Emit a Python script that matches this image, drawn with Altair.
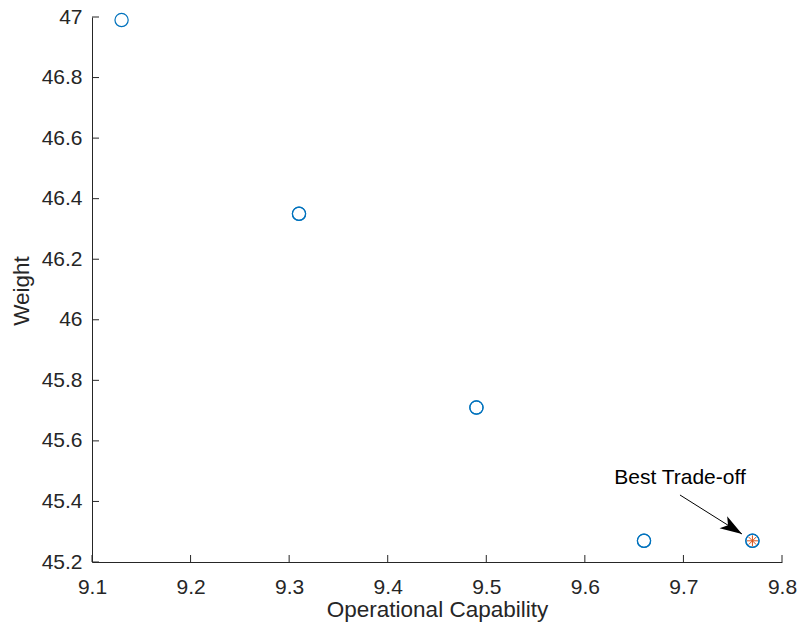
import math
import altair as alt
import pandas as pd

# Pareto front of candidate designs
capability = [9.13, 9.31, 9.31, 9.49, 9.49, 9.66, 9.66, 9.77, 9.77]
weight = [46.99, 46.35, 46.35, 45.71, 45.71, 45.27, 45.27, 45.27, 45.27]

# selected compromise solution
best_capability = [9.77]
best_weight = [45.27]

# annotation: label anchor, arrow start and arrow tip (data units)
note_text = ["Best Trade-off"]
note_x = [9.6965]
note_y = [45.4576]
arrow_x = [9.6965]
arrow_y = [45.4213]
arrow_x2 = [9.7594]
arrow_y2 = [45.2925]

# axis ticks
x_ticks = [9.1, 9.2, 9.3, 9.4, 9.5, 9.6, 9.7, 9.8]
y_ticks = [45.2, 45.4, 45.6, 45.8, 46.0, 46.2, 46.4, 46.6, 46.8, 47.0]

X_DOMAIN = [9.1, 9.8]
Y_DOMAIN = [45.2, 47.0]
W, H = 690, 545

FONT = "Liberation Sans, Arial, Helvetica, sans-serif"
INK = "#262626"
BLUE = "#0072BD"
ORANGE = "#D95319"

pts = pd.DataFrame({"x": capability, "y": weight})
best = pd.DataFrame({"x": best_capability, "y": best_weight})
note = pd.DataFrame({"x": note_x, "y": note_y, "t": note_text})
arrow = pd.DataFrame({"x": arrow_x, "y": arrow_y, "x2": arrow_x2, "y2": arrow_y2})
xt = pd.DataFrame({"v": x_ticks})
yt = pd.DataFrame({"v": y_ticks})

xs = alt.Scale(domain=X_DOMAIN, nice=False, zero=False)
ys = alt.Scale(domain=Y_DOMAIN, nice=False, zero=False)

x_axis = alt.Axis(
    values=x_ticks, format="~g", ticks=False, tickSize=0, grid=False,
    domainColor=INK, domainWidth=1, labelColor=INK, labelFont=FONT,
    labelFontSize=21, labelPadding=14, titleFont=FONT, titleFontSize=22.5,
    titleColor=INK, titleFontWeight="normal", titleX=W / 2, titleY=54,
    titleAlign="center", titleBaseline="alphabetic", labelFlush=False,
)
y_axis = alt.Axis(
    values=y_ticks, format="~g", ticks=False, tickSize=0, grid=False,
    domainColor=INK, domainWidth=1, labelColor=INK, labelFont=FONT,
    labelFontSize=21, labelPadding=10, titleFont=FONT, titleFontSize=22.5,
    titleColor=INK, titleFontWeight="normal", titleX=-64, titleY=H / 2 + 1,
    titleAlign="center", titleBaseline="alphabetic", titleAngle=270,
    labelFlush=False,
)

# empty axes layer carrying domain lines, labels and titles
frame = alt.Chart(pts).mark_point(opacity=0).encode(
    x=alt.X("x:Q", scale=xs, axis=x_axis, title="Operational Capability"),
    y=alt.Y("y:Q", scale=ys, axis=y_axis, title="Weight"),
)

# inward-pointing ticks
x_tick_marks = alt.Chart(xt).mark_rule(color=INK, strokeWidth=1).encode(
    x=alt.X("v:Q", scale=xs), y=alt.value(H), y2=alt.value(H - 7)
)
y_tick_marks = alt.Chart(yt).mark_rule(color=INK, strokeWidth=1).encode(
    y=alt.Y("v:Q", scale=ys), x=alt.value(0), x2=alt.value(7)
)

circles = alt.Chart(pts).mark_point(
    shape="circle", filled=False, color=BLUE, strokeWidth=1.2, size=175, opacity=1
).encode(x=alt.X("x:Q", scale=xs), y=alt.Y("y:Q", scale=ys))

asterisk = alt.Chart(best).mark_point(
    shape="M-1,0L1,0M0,-1L0,1M-0.7,-0.7L0.7,0.7M-0.7,0.7L0.7,-0.7",
    filled=False, color=ORANGE, strokeWidth=1, size=121, opacity=1,
).encode(x=alt.X("x:Q", scale=xs), y=alt.Y("y:Q", scale=ys))

label = alt.Chart(note).mark_text(
    font=FONT, fontSize=21, color="black", align="center", baseline="alphabetic"
).encode(x=alt.X("x:Q", scale=xs), y=alt.Y("y:Q", scale=ys), text="t:N")

shaft = alt.Chart(arrow).mark_rule(color="black", strokeWidth=1).encode(
    x=alt.X("x:Q", scale=xs), y=alt.Y("y:Q", scale=ys), x2="x2:Q", y2="y2:Q"
)

# heading of the arrow in screen space
dx = (arrow_x2[0] - arrow_x[0]) / (X_DOMAIN[1] - X_DOMAIN[0]) * W
dy = (arrow_y[0] - arrow_y2[0]) / (Y_DOMAIN[1] - Y_DOMAIN[0]) * H
heading = math.degrees(math.atan2(dy, dx)) % 360

head = alt.Chart(arrow).mark_point(
    shape="M0,0L-2,-0.65L-1.5,0L-2,0.65Z", filled=True, color="black",
    size=484, angle=heading, opacity=1, strokeWidth=0,
).encode(x=alt.X("x2:Q", scale=xs), y=alt.Y("y2:Q", scale=ys))

chart = alt.layer(
    frame, x_tick_marks, y_tick_marks, circles, asterisk, shaft, head, label
).properties(
    width=W, height=H,
    autosize=alt.AutoSizeParams(type="none"),
    padding={"left": 92, "top": 17, "right": 19, "bottom": 71},
    background="white",
).configure_view(stroke=None)

chart.save("out.html", embed_options={"renderer": "svg", "actions": False})
